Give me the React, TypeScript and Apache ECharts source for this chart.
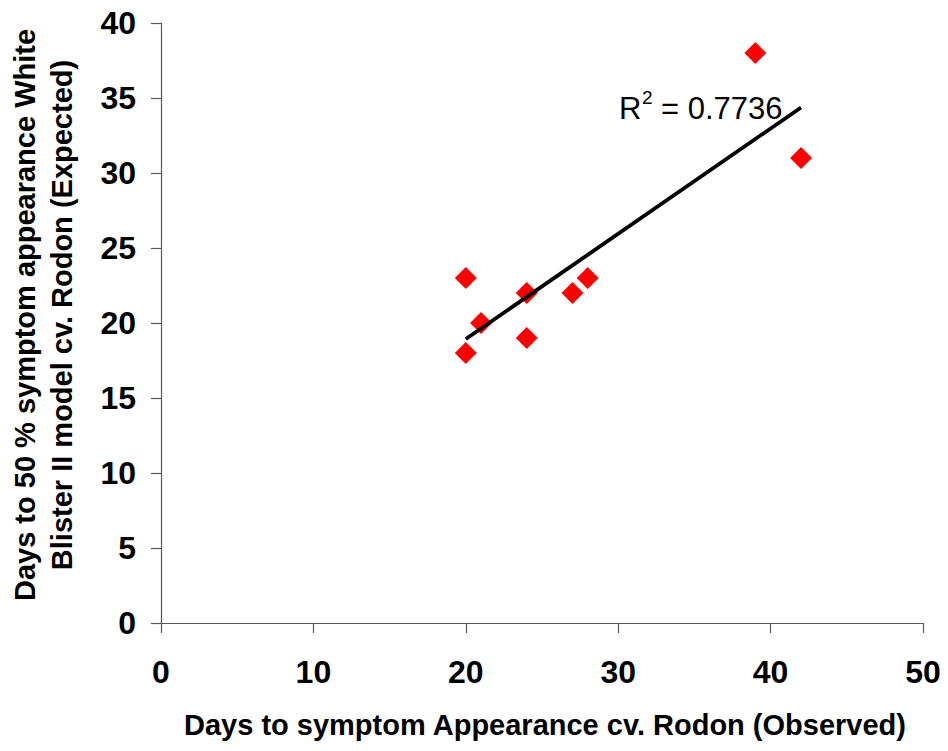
import React, { useEffect, useRef } from "react";
import * as echarts from "echarts";

// Observed vs expected days to symptom appearance
const observedDays: number[] = [20, 20, 21, 24, 24, 27, 28, 39, 42];
const expectedDays: number[] = [23, 18, 20, 22, 19, 22, 23, 38, 31];

const xTicks = { min: 0, max: 50, interval: 10 };
const yTicks = { min: 0, max: 40, interval: 5 };

const xTitle = "Days to symptom Appearance cv. Rodon (Observed)";
const yTitleLines = [
  "Days to 50 % symptom appearance White",
  "Blister II model cv. Rodon (Expected)",
];

// Least-squares fit of expected on observed
function linearFit(xs: number[], ys: number[]) {
  const n = xs.length;
  const mx = xs.reduce((a, b) => a + b, 0) / n;
  const my = ys.reduce((a, b) => a + b, 0) / n;
  let sxy = 0;
  let sxx = 0;
  let syy = 0;
  for (let i = 0; i < n; i++) {
    sxy += (xs[i] - mx) * (ys[i] - my);
    sxx += (xs[i] - mx) ** 2;
    syy += (ys[i] - my) ** 2;
  }
  const slope = sxy / sxx;
  const intercept = my - slope * mx;
  const r2 = (sxy * sxy) / (sxx * syy);
  return { slope, intercept, r2 };
}

const FONT = '"Liberation Sans", Arial, Helvetica, sans-serif';

export default function App() {
  const ref = useRef<HTMLDivElement>(null);

  useEffect(() => {
    if (!ref.current) return;
    const chart = echarts.init(ref.current, null, { renderer: "svg" });

    const fit = linearFit(observedDays, expectedDays);
    const xLo = Math.min(...observedDays);
    const xHi = Math.max(...observedDays);
    const trend = [
      [xLo, fit.intercept + fit.slope * xLo],
      [xHi, fit.intercept + fit.slope * xHi],
    ];

    const axisColor = "#5a5a5a";
    const titleStyle = {
      fontFamily: FONT,
      fontWeight: "bold",
      fontSize: 29,
      fill: "#000",
      textAlign: "center",
      textVerticalAlign: "middle",
    };

    chart.setOption({
      animation: false,
      backgroundColor: "#ffffff",
      grid: { left: 161, top: 23, right: 25, bottom: 128, containLabel: false },
      xAxis: {
        type: "value",
        min: xTicks.min,
        max: xTicks.max,
        interval: xTicks.interval,
        splitLine: { show: false },
        axisLine: { show: true, lineStyle: { color: axisColor, width: 1.2 } },
        axisTick: { show: true, length: 10, lineStyle: { color: axisColor, width: 1.2 } },
        axisLabel: {
          margin: 33,
          color: "#000",
          fontFamily: FONT,
          fontWeight: "bold",
          fontSize: 32,
        },
      },
      yAxis: {
        type: "value",
        min: yTicks.min,
        max: yTicks.max,
        interval: yTicks.interval,
        splitLine: { show: false },
        axisLine: { show: true, lineStyle: { color: axisColor, width: 1.2 } },
        axisTick: { show: true, length: 10, lineStyle: { color: axisColor, width: 1.2 } },
        axisLabel: {
          margin: 25,
          color: "#000",
          fontFamily: FONT,
          fontWeight: "bold",
          fontSize: 32,
        },
      },
      series: [
        {
          type: "scatter",
          data: observedDays.map((x, i) => [x, expectedDays[i]]),
          symbol: "diamond",
          symbolSize: 22,
          itemStyle: { color: "#ff0000", opacity: 1 },
          z: 2,
        },
        {
          type: "line",
          data: trend,
          symbol: "none",
          lineStyle: { color: "#000000", width: 3.8 },
          z: 3,
        },
      ],
      graphic: [
        {
          type: "text",
          x: 545,
          y: 725,
          style: { ...titleStyle, text: xTitle },
        },
        {
          type: "text",
          x: 25,
          y: 315,
          rotation: Math.PI / 2,
          style: { ...titleStyle, text: yTitleLines[0] },
        },
        {
          type: "text",
          x: 62,
          y: 315,
          rotation: Math.PI / 2,
          style: { ...titleStyle, text: yTitleLines[1] },
        },
        {
          type: "text",
          x: 619,
          y: 124,
          style: {
            text: "R",
            fontFamily: FONT,
            fontSize: 31,
            fill: "#000",
            textAlign: "left",
            textVerticalAlign: "bottom",
          },
        },
        {
          type: "text",
          x: 642,
          y: 107,
          style: {
            text: "2",
            fontFamily: FONT,
            fontSize: 19,
            fill: "#000",
            textAlign: "left",
            textVerticalAlign: "bottom",
          },
        },
        {
          type: "text",
          x: 661,
          y: 124,
          style: {
            text: "= " + fit.r2.toFixed(4),
            fontFamily: FONT,
            fontSize: 31,
            fill: "#000",
            textAlign: "left",
            textVerticalAlign: "bottom",
          },
        },
      ],
    });

    return () => chart.dispose();
  }, []);

  return (
    <div
      ref={ref}
      style={{ position: "fixed", left: 0, top: 0, width: 948, height: 751, background: "#fff" }}
    />
  );
}
